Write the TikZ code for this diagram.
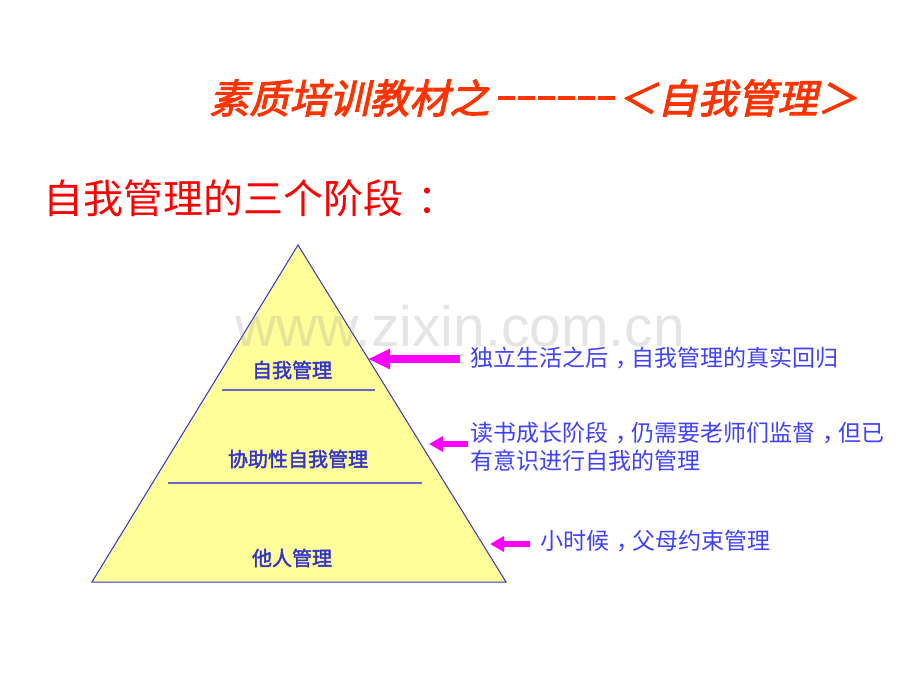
\documentclass[tikz,border=0pt]{standalone}
\usepackage{fontspec}
\usetikzlibrary{arrows.meta}
\newfontfamily\cjk{Noto Sans CJK SC}
\newfontfamily\cjktitle{Noto Sans CJK SC}[FakeSlant=0.22,FakeBold=2.5]
\newfontfamily\cjkbold{Noto Sans CJK SC}[FakeBold=2]
\newfontfamily\wmfont{Liberation Sans}
\newcommand\tdash{\makebox[0.5em][l]{\hspace{0.07em}\rule[0.33em]{0.41em}{0.1em}}}
\newcommand\zc{\hspace{0.3em}，\hspace{-0.3em}}
\newcommand\zcolon{\hspace{0.35em}：\hspace{-0.35em}}
\definecolor{titlered}{HTML}{FF3300}
\definecolor{subred}{HTML}{FF0000}
\definecolor{pyfill}{HTML}{FFFF99}
\definecolor{pyedge}{HTML}{3333CC}
\definecolor{sepline}{HTML}{6666CC}
\definecolor{lbl}{HTML}{3333CC}
\definecolor{note}{HTML}{4040FF}
\definecolor{arr}{HTML}{FF00FF}
\begin{document}
\begin{tikzpicture}[x=0.5pt,y=-0.5pt,
  lvl/.style={text=lbl,font=\cjkbold\fontsize{10}{12}\selectfont,inner sep=0pt},
  notetxt/.style={text=note,font=\cjk\fontsize{11.5}{14}\selectfont,inner sep=0pt,anchor=west,align=left},
  bigarr/.style={arr,line width=4pt,-{Triangle[length=11pt,width=9.5pt]}},
  smallarr/.style={arr,line width=3pt,-{Triangle[length=7pt,width=7.5pt]}}]
\useasboundingbox (0,0) rectangle (920,690);
\fill[white] (0,0) rectangle (920,690);
% title
\node[anchor=west,inner sep=0pt,text=titlered,font=\cjktitle\fontsize{20}{24}\selectfont] (title) at (209,98) {素质培训教材之\hspace{0.15em}\tdash\tdash\tdash\tdash\tdash\tdash\hspace{0.05em}＜自我管理＞};
\node[anchor=west,inner sep=0pt,text=subred,font=\cjk\fontsize{20}{24}\selectfont] (sub) at (43,198) {自我管理的三个阶段\zcolon};
% pyramid
\coordinate (apex) at (298,245);
\coordinate (bl) at (92,582);
\coordinate (br) at (506,582);
\filldraw[fill=pyfill,draw=pyedge,line width=0.5pt] (apex) -- (bl) -- (br) -- cycle;
\coordinate (s1a) at (222,390); \coordinate (s1b) at (375,390);
\coordinate (s2a) at (168,483); \coordinate (s2b) at (422,483);
\draw[sepline,line width=0.7pt] (s1a) -- (s1b);
\draw[sepline,line width=0.7pt] (s2a) -- (s2b);
% watermark
\node[inner sep=0pt,text=black!40,opacity=0.25,font=\wmfont\fontsize{28.5}{30}\selectfont] (wm) at (460,326) {www.zixin.com.cn};
% level labels
\node[lvl] (l1) at (292,370) {自我管理};
\node[lvl] (l2) at (298,459) {协助性自我管理};
\node[lvl] (l3) at (292,558) {他人管理};
% notes
\node[notetxt] (n1) at (470,358) {独立生活之后\zc 自我管理的真实回归};
\node[notetxt] (n2) at (470,447) {读书成长阶段\zc 仍需要老师们监督\zc 但已\\有意识进行自我的管理};
\node[notetxt] (n3) at (540,541) {小时候\zc 父母约束管理};
% arrows
\coordinate (t1) at (368,359);
\coordinate (t2) at (429,444);
\coordinate (t3) at (490,544);
\coordinate (b1) at (460,359);
\coordinate (b2) at (468,444);
\coordinate (b3) at (530,544);
\draw[bigarr] (b1) -- (t1);
\draw[smallarr] (b2) -- (t2);
\draw[smallarr] (b3) -- (t3);
\end{tikzpicture}
\end{document}
